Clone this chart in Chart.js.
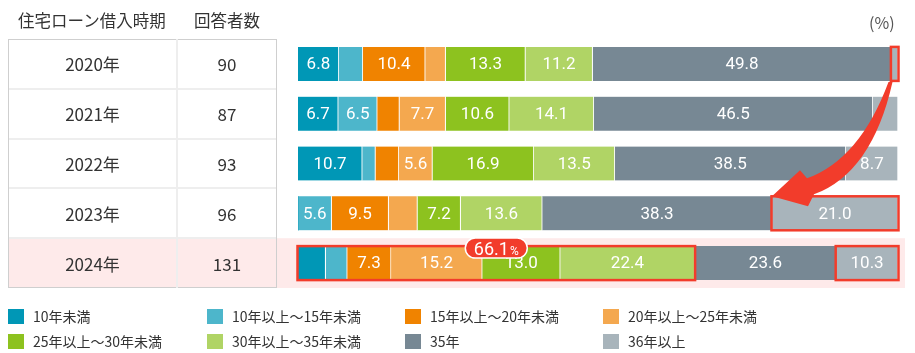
<!DOCTYPE html>
<html><head><meta charset="utf-8">
<script src="https://cdn.jsdelivr.net/npm/chart.js@4.4.1/dist/chart.umd.min.js"></script>
<style>
html,body{margin:0;padding:0;background:#fff;}
body{width:915px;height:353px;position:relative;overflow:hidden;font-family:"Noto Sans CJK JP","Noto Sans",sans-serif;color:#333;}
#c{position:absolute;left:0;top:0;z-index:0;}
.ov{position:absolute;z-index:1;}
.hdr{font-size:16.5px;line-height:20px;top:10px;white-space:nowrap;}
#tbl{left:8px;top:39px;width:269px;height:249px;box-sizing:border-box;border:1px solid #cfcfcf;}
.row{position:absolute;left:0;width:267px;height:49.8px;display:flex;}
.row div{display:flex;align-items:center;justify-content:center;font-size:17px;height:100%;}
.c1{width:169px;border-right:2px solid #eee;box-sizing:border-box;}
.c2{width:98px;}
.sep{position:absolute;left:0;width:267px;height:2px;background:#eee;}
.lg{font-size:14px;white-space:nowrap;display:flex;align-items:center;height:16px;}
.lg span.b{display:inline-block;width:16px;height:15px;margin-right:9px;}
</style></head>
<body>
<canvas id="c" width="915" height="353"></canvas>
<div class="ov hdr" style="left:18px;">住宅ローン借入時期</div>
<div class="ov hdr" style="left:194px;">回答者数</div>
<div class="ov hdr" style="left:869px;font-size:16px;color:#555;top:12px;">(%)</div>
<div class="ov" id="tbl"></div>
<div id="legend"></div>
<script>
const years = ['2020年','2021年','2022年','2023年','2024年'];
const respondents = [90, 87, 93, 96, 131];
const categories = ['10年未満','10年以上～15年未満','15年以上～20年未満','20年以上～25年未満','25年以上～30年未満','30年以上～35年未満','35年','36年以上'];
const under10  = [6.8, 6.7, 10.7, 0.0, 4.6];
const y10to15  = [4.0, 6.5, 2.2, 5.6, 3.6];
const y15to20  = [10.4, 3.7, 3.9, 9.5, 7.3];
const y20to25  = [3.4, 7.7, 5.6, 4.8, 15.2];
const y25to30  = [13.3, 10.6, 16.9, 7.2, 13.0];
const y30to35  = [11.2, 14.1, 13.5, 13.6, 22.4];
const y35      = [49.8, 46.5, 38.5, 38.3, 23.6];
const y36plus  = [1.1, 4.2, 8.7, 21.0, 10.3];
const seriesValues = [under10, y10to15, y15to20, y20to25, y25to30, y30to35, y35, y36plus];
const colors = ['#0097b6','#4db6cb','#f08300','#f4a84f','#8dc21f','#b0d465','#778894','#a8b4bb'];

// table
const tbl = document.getElementById('tbl');
const rowH = 249 / years.length;
years.forEach((y, i) => {
  const r = document.createElement('div');
  r.className = 'row';
  r.style.top = (i * rowH - 1) + 'px';
  r.innerHTML = '<div class="c1">' + y + '</div><div class="c2">' + respondents[i] + '</div>';
  tbl.appendChild(r);
  if (i > 0) {
    const s = document.createElement('div');
    s.className = 'sep';
    s.style.top = (i * rowH - 2) + 'px';
    tbl.appendChild(s);
  }
});
// legend
const lgX = [8, 207, 405, 603];
const lgY = [308, 333];
const lg = document.getElementById('legend');
categories.forEach((c, i) => {
  const d = document.createElement('div');
  d.className = 'ov lg';
  d.style.left = lgX[i % 4] + 'px';
  d.style.top = lgY[Math.floor(i / 4)] + 'px';
  d.innerHTML = '<span class="b" style="background:' + colors[i] + '"></span>' + c;
  lg.appendChild(d);
});

const highlightRow = 4;
const boxes = [{row:0, from:7, to:7}, {row:3, from:7, to:7}, {row:4, from:0, to:5}, {row:4, from:7, to:7}];
const RED = '#f23c2b';

function rectOf(chart, di, row) {
  const el = chart.getDatasetMeta(di).data[row];
  const p = el.getProps(['x','y','base','height'], true);
  return {l: Math.min(p.x, p.base), r: Math.max(p.x, p.base), t: p.y - p.height/2, b: p.y + p.height/2, cy: p.y};
}

const bgPlugin = {
  id: 'bg',
  beforeDatasetsDraw(chart) {
    const ctx = chart.ctx;
    const ys = chart.scales.y;
    const cy = ys.getPixelForValue(highlightRow);
    const band = (ys.bottom - ys.top) / years.length;
    ctx.save();
    ctx.fillStyle = '#feeaea';
    ctx.fillRect(8, cy - band/2, 897, band);
    ctx.restore();
  },
  afterDatasetsDraw(chart) {
    const ctx = chart.ctx;
    ctx.save();
    // labels
    ctx.font = '17px Roboto';
    ctx.fillStyle = '#fff';
    ctx.textAlign = 'center';
    ctx.textBaseline = 'middle';
    chart.data.datasets.forEach((ds, di) => {
      ds.data.forEach((v, i) => {
        if (v >= 5) {
          const r = rectOf(chart, di, i);
          ctx.fillText(v.toFixed(1), (r.l + r.r)/2, r.cy + 1);
        }
      });
    });
    // red boxes
    ctx.strokeStyle = RED;
    ctx.lineWidth = 2.5;
    boxes.forEach(bx => {
      const a = rectOf(chart, bx.from, bx.row), b = rectOf(chart, bx.to, bx.row);
      ctx.strokeRect(a.l - 0.5, a.t, b.r - a.l + 1, a.b - a.t);
    });
    // arrow
    const s0 = rectOf(chart, 7, 0);
    const S = {x: s0.r - 7, y: s0.b + 1};
    const t0 = rectOf(chart, 7, 3);
    const T = {x: t0.l, y: t0.t};
    ctx.fillStyle = RED;
    ctx.beginPath();
    ctx.moveTo(S.x - 2.5, S.y);
    ctx.quadraticCurveTo(S.x - 31, S.y + 77, T.x + 35, T.y - 18);
    ctx.lineTo(T.x + 28, T.y - 26);
    ctx.lineTo(T.x, T.y);
    ctx.lineTo(T.x + 36, T.y + 10);
    ctx.lineTo(T.x + 42, T.y - 2);
    ctx.quadraticCurveTo(S.x - 19, S.y + 91, S.x + 1.5, S.y);
    ctx.closePath();
    ctx.fill();
    // bubble
    const a = rectOf(chart, 0, 4), b = rectOf(chart, 5, 4);
    let total = 0;
    for (let d = 0; d <= 5; d++) total += seriesValues[d][4];
    const txt = total.toFixed(1);
    const cx = (a.l + b.r) / 2, cy = a.t + 2;
    const w = 62, h = 20;
    ctx.beginPath();
    ctx.roundRect(cx - w/2, cy - h/2, w, h, h/2);
    ctx.fillStyle = RED;
    ctx.fill();
    ctx.strokeStyle = '#fff';
    ctx.lineWidth = 1.5;
    ctx.stroke();
    ctx.fillStyle = '#fff';
    ctx.textBaseline = 'alphabetic';
    ctx.textAlign = 'left';
    ctx.font = '18px Roboto';
    const w1 = ctx.measureText(txt).width;
    ctx.font = '12px Roboto';
    const w2 = ctx.measureText('%').width;
    const x0 = cx - (w1 + w2 + 1)/2;
    ctx.font = '18px Roboto';
    ctx.fillText(txt, x0, cy + 6.5);
    ctx.font = '12px Roboto';
    ctx.fillText('%', x0 + w1 + 1, cy + 6.5);
    ctx.restore();
  }
};

new Chart(document.getElementById('c'), {
  type: 'bar',
  data: {
    labels: years,
    datasets: categories.map((c, i) => ({
      label: c,
      data: seriesValues[i],
      backgroundColor: colors[i],
      borderColor: '#ffffff',
      borderWidth: {top: 0, bottom: 0, left: 0, right: 1},
      borderSkipped: false,
      barThickness: 34
    }))
  },
  options: {
    indexAxis: 'y',
    responsive: false,
    animation: false,
    layout: {padding: {left: 298, right: 17, top: 39, bottom: 65}},
    plugins: {legend: {display: false}, tooltip: {enabled: false}},
    scales: {
      x: {stacked: true, min: 0, max: 100, display: false},
      y: {stacked: true, display: false}
    }
  },
  plugins: [bgPlugin]
});
</script>
</body></html>
